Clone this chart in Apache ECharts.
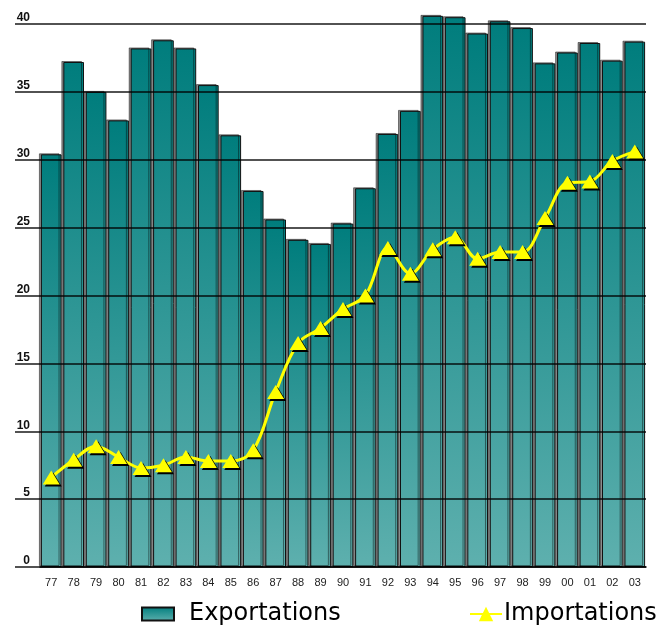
<!DOCTYPE html>
<html>
<head>
<meta charset="utf-8">
<script src="https://cdn.jsdelivr.net/npm/echarts@6/dist/echarts.min.js"></script>
<style>
html,body{margin:0;padding:0;background:#fff;}
#chart{width:662px;height:627px;}
</style>
</head>
<body>
<div id="chart"></div>
<script>
var categories = ['77','78','79','80','81','82','83','84','85','86','87','88','89','90','91','92','93','94','95','96','97','98','99','00','01','02','03'];
var exportations = [30.4, 37.2, 35.0, 32.9, 38.2, 38.8, 38.2, 35.5, 31.8, 27.7, 25.6, 24.1, 23.8, 25.3, 27.9, 31.9, 33.6, 40.6, 40.5, 39.3, 40.2, 39.7, 37.1, 37.9, 38.6, 37.3, 38.7];
var importations = [6.6, 7.9, 8.9, 8.1, 7.3, 7.5, 8.1, 7.8, 7.8, 8.6, 12.9, 16.5, 17.6, 19.0, 20.0, 23.5, 21.6, 23.4, 24.3, 22.7, 23.2, 23.2, 25.7, 28.3, 28.4, 29.9, 30.6];
var yTicks = {min: 0, max: 40, interval: 5};

var chart = echarts.init(document.getElementById('chart'), null, {renderer: 'canvas'});
var gridLine = {color: 'rgba(0,0,0,0.68)', width: 2};
var option = {
  backgroundColor: '#ffffff',
  animation: false,
  grid: {left: 40, right: 16, top: 24, bottom: 60, containLabel: false},
  legend: [
    {
      data: [{name: 'Exportations', icon: 'rect'}], left: 141, top: 602, padding: 0,
      itemWidth: 32, itemHeight: 13,
      textStyle: {fontSize: 24, fontFamily: 'DejaVu Sans', color: '#000', padding: [0, 0, 0, 10]}
    },
    {
      data: ['Importations'], left: 469, top: 602, padding: 0,
      itemWidth: 32, itemHeight: 18,
      textStyle: {fontSize: 24, fontFamily: 'DejaVu Sans', color: '#000', padding: [0, 0, 0, -3]}
    }
  ],
  xAxis: {
    type: 'category',
    data: categories,
    z: 3,
    axisLine: {show: true, lineStyle: {color: '#000', width: 1.5}},
    axisTick: {show: false},
    axisLabel: {color: '#222', fontSize: 11, fontFamily: 'Liberation Sans', margin: 10},
    splitLine: {show: false}
  },
  yAxis: {
    type: 'value',
    min: yTicks.min, max: yTicks.max, interval: yTicks.interval,
    z: 3,
    axisLine: {show: false},
    axisTick: {show: true, length: 25, lineStyle: gridLine},
    axisLabel: {color: '#111', fontSize: 12, fontWeight: 'bold', fontFamily: 'Liberation Sans', margin: 10, verticalAlign: 'bottom'},
    splitLine: {show: true, lineStyle: gridLine}
  },
  series: [
    {
      name: 'Exportations',
      type: 'bar',
      data: exportations,
      clip: false,
      barCategoryGap: '8%',
      z: 2,
      itemStyle: {
        color: new echarts.graphic.LinearGradient(0, 0, 0, 1, [
          {offset: 0, color: '#007d7d'},
          {offset: 1, color: '#5eb0ae'}
        ]),
        borderColor: '#111',
        borderWidth: 1,
        shadowColor: 'rgba(0,0,0,0.45)',
        shadowOffsetX: -2,
        shadowOffsetY: -1,
        shadowBlur: 0
      }
    },
    {
      name: 'Importations',
      type: 'line',
      data: importations,
      smooth: 0.35,
      z: 5,
      symbol: 'triangle',
      symbolSize: [17, 14],
      lineStyle: {color: '#ffff00', width: 3},
      itemStyle: {
        color: '#ffff00',
        shadowColor: '#000',
        shadowOffsetX: 2,
        shadowOffsetY: 2,
        shadowBlur: 0
      }
    }
  ]
};
chart.setOption(option);
</script>
</body>
</html>
